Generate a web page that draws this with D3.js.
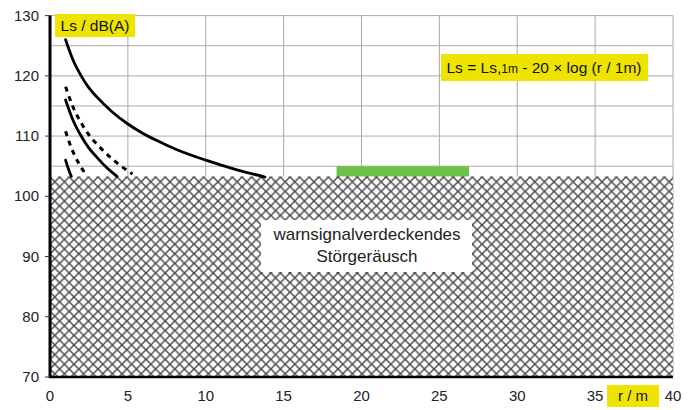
<!DOCTYPE html>
<html><head><meta charset="utf-8">
<script src="https://cdn.jsdelivr.net/npm/d3@7"></script>
<style>html,body{margin:0;padding:0;background:#fff;} svg{display:block;font-family:"Liberation Sans",Arial,sans-serif;}</style>
</head><body><svg id="c" width="697" height="410"></svg>
<script>
// Data
const xTicks = [0,5,10,15,20,25,30,35,40];
const yTicks = [70,80,90,100,110,120,130];
const gridY = [75,80,85,90,95,100,105,110,115,120,125,130];
const noiseLevel = 103.3; // top of masking noise hatch
const greenBand = [18.4, 26.9, 103.3, 105.0];
const curve1 = [[1.0,126.0],[1.5,122.5],[2,120.0],[2.5,118.0],[3,116.5],[4,114.0],[5,112.0],[6,110.4],[7,109.1],[8,107.9],[10,106.0],[12,104.4],[13.8,103.2]];
const curve2 = [[1.0,116.0],[1.5,112.5],[2,110.0],[2.5,108.0],[3,106.5],[3.5,105.1],[4.3,103.3]];
const curve3 = [[1.0,106.0],[1.2,104.4],[1.37,103.3]];
const dashed1 = [[1.0,118.2],[1.5,114.7],[2,112.2],[2.5,110.2],[3,108.7],[4,106.2],[5,104.2],[5.3,103.7]];
const dashed2 = [[1.0,110.8],[1.3,108.5],[1.6,106.7],[2,104.8],[2.2,104.0]];
const solidCurves = [curve1, curve2, curve3];
const dashedCurves = [dashed1, dashed2];

const svg = d3.select("#c");
const x = d3.scaleLinear().domain([0,40]).range([50,673]);
const y = d3.scaleLinear().domain([70,130]).range([377,15.6]);

// defs: crosshatch
const defs = svg.append("defs");
const T = 9.6;
const pat = defs.append("pattern").attr("id","hatch").attr("patternUnits","userSpaceOnUse")
  .attr("width",T).attr("height",T).attr("x",50).attr("y",177);
pat.append("rect").attr("width",T).attr("height",T).attr("fill","#fff");
pat.append("path").attr("d",`M-1,-1L${T+1},${T+1}M-1,${T+1}L${T+1},-1`).attr("stroke","#4a4a4a").attr("stroke-width",1.5);

// grid
const g = svg.append("g");
g.selectAll("line.gx").data(xTicks.slice(1)).join("line")
  .attr("x1",d=>x(d)).attr("x2",d=>x(d)).attr("y1",y(130)).attr("y2",y(70))
  .attr("stroke","#aaa").attr("stroke-width",1);
g.selectAll("line.gy").data(gridY).join("line")
  .attr("x1",x(0)).attr("x2",x(40)).attr("y1",d=>y(d)).attr("y2",d=>y(d))
  .attr("stroke","#aaa").attr("stroke-width",1);

// green band
svg.append("rect").attr("x",x(greenBand[0])).attr("width",x(greenBand[1])-x(greenBand[0]))
  .attr("y",y(greenBand[3])).attr("height",y(greenBand[2])-y(greenBand[3])+2).attr("fill","#6cc24a");

// hatch area
svg.append("rect").attr("x",x(0)).attr("width",x(40)-x(0)).attr("y",y(noiseLevel))
  .attr("height",y(70)-y(noiseLevel)).attr("fill","url(#hatch)");

// white label box
svg.append("rect").attr("x",261).attr("y",220).attr("width",211).attr("height",52).attr("fill","#fff");
svg.append("text").attr("x",367).attr("y",240).attr("text-anchor","middle").attr("font-size",17).attr("fill","#222").text("warnsignalverdeckendes");
svg.append("text").attr("x",367).attr("y",262).attr("text-anchor","middle").attr("font-size",17).attr("fill","#222").text("Störgeräusch");

// curves
const line = d3.line().x(d=>x(d[0])).y(d=>y(d[1])).curve(d3.curveMonotoneX);
svg.selectAll("path.solid").data(solidCurves).join("path").attr("class","solid")
  .attr("d",line).attr("fill","none").attr("stroke","#000").attr("stroke-width",2.8).attr("stroke-linecap","round");
svg.selectAll("path.dash").data(dashedCurves).join("path").attr("class","dash")
  .attr("d",line).attr("fill","none").attr("stroke","#000").attr("stroke-width",3).attr("stroke-dasharray","5,5");

// axes
svg.append("line").attr("x1",x(0)).attr("x2",x(0)).attr("y1",y(130)).attr("y2",y(70)+1).attr("stroke","#000").attr("stroke-width",3);
svg.append("line").attr("x1",x(0)-1).attr("x2",x(40)).attr("y1",y(70)).attr("y2",y(70)).attr("stroke","#000").attr("stroke-width",2.5);
svg.selectAll("line.yt").data(yTicks).join("line").attr("x1",x(0)-5).attr("x2",x(0)).attr("y1",d=>y(d)).attr("y2",d=>y(d)).attr("stroke","#333").attr("stroke-width",1);

svg.selectAll("text.yl").data(yTicks).join("text").attr("x",39).attr("y",d=>y(d)+5)
  .attr("text-anchor","end").attr("font-size",15).attr("fill","#222").text(d=>d);
svg.selectAll("text.xl").data(xTicks).join("text").attr("x",d=>x(d)).attr("y",401)
  .attr("text-anchor","middle").attr("font-size",15).attr("fill","#222").text(d=>d);

// yellow labels
svg.append("rect").attr("x",55).attr("y",14).attr("width",80).attr("height",23).attr("fill","#efe400");
svg.append("text").attr("x",95).attr("y",31).attr("text-anchor","middle").attr("font-size",15.5).attr("fill","#111").text("Ls / dB(A)");

svg.append("rect").attr("x",441).attr("y",54).attr("width",207).attr("height",27).attr("fill","#efe400");
const ft = svg.append("text").attr("x",544).attr("y",73).attr("text-anchor","middle").attr("font-size",15.5).attr("fill","#111");
ft.append("tspan").text("Ls = Ls,");
ft.append("tspan").attr("font-size",12).text("1m");
ft.append("tspan").text(" - 20 × log (r / 1m)");

svg.append("rect").attr("x",607).attr("y",385).attr("width",52).attr("height",22).attr("fill","#efe400");
svg.append("text").attr("x",633).attr("y",401).attr("text-anchor","middle").attr("font-size",15).attr("fill","#111").text("r / m");
</script></body></html>
